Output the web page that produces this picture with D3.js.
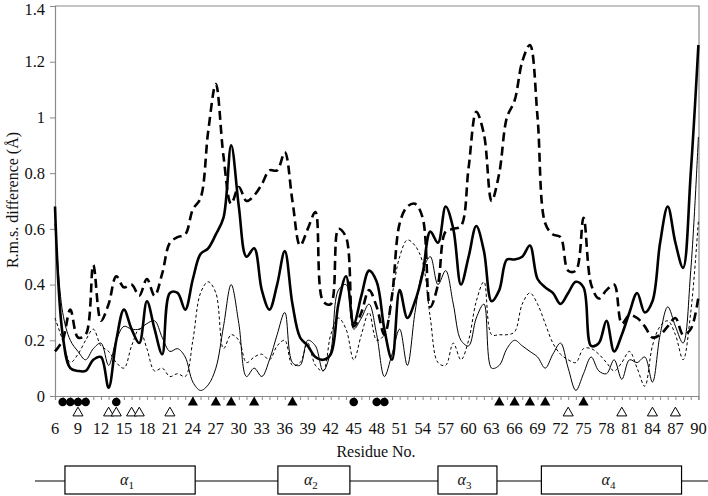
<!DOCTYPE html>
<html>
<head>
<meta charset="utf-8">
<script src="https://cdn.jsdelivr.net/npm/d3@7"></script>
<style>
  body { margin: 0; background: #fff; }
  svg text { font-family: "Liberation Serif", "Times New Roman", serif; fill: #111; }
</style>
</head>
<body>
<div id="chart"></div>
<script>
const residues = d3.range(6, 91);

const thickSolid = [0.68, 0.22, 0.10, 0.09, 0.09, 0.13, 0.14, 0.03, 0.20, 0.31,
  0.24, 0.19, 0.34, 0.24, 0.15, 0.37, 0.37, 0.31, 0.42, 0.51,
  0.53, 0.58, 0.64, 0.90, 0.68, 0.50, 0.53, 0.38, 0.31, 0.40,
  0.52, 0.33, 0.21, 0.18, 0.14, 0.13, 0.15, 0.33, 0.43, 0.26,
  0.36, 0.45, 0.41, 0.24, 0.13, 0.38, 0.28, 0.34, 0.44, 0.59,
  0.55, 0.68, 0.60, 0.40, 0.50, 0.61, 0.52, 0.34, 0.38, 0.49,
  0.49, 0.50, 0.54, 0.42, 0.39, 0.37, 0.33, 0.37, 0.41, 0.39,
  0.18, 0.19, 0.27, 0.16, 0.22, 0.30, 0.37, 0.30, 0.34, 0.55,
  0.68, 0.55, 0.46, 0.80, 1.26];

const thickDashed = [0.16, 0.20, 0.31, 0.21, 0.22, 0.47, 0.27, 0.33, 0.43, 0.39,
  0.40, 0.36, 0.42, 0.36, 0.44, 0.55, 0.57, 0.58, 0.67, 0.71,
  0.95, 1.12, 0.86, 0.69, 0.75, 0.70, 0.72, 0.76, 0.81, 0.81,
  0.875, 0.70, 0.54, 0.60, 0.66, 0.34, 0.33, 0.60, 0.57, 0.25,
  0.30, 0.38, 0.32, 0.22, 0.36, 0.62, 0.68, 0.69, 0.64, 0.32,
  0.40, 0.59, 0.60, 0.61, 0.82, 1.02, 0.94, 0.70, 0.80, 1.00,
  1.06, 1.20, 1.26, 1.00, 0.62, 0.58, 0.57, 0.45, 0.45, 0.64,
  0.40, 0.35, 0.38, 0.40, 0.26, 0.29, 0.28, 0.25, 0.21, 0.22,
  0.25, 0.28, 0.22, 0.24, 0.355];

const thinSolid = [0.62, 0.30, 0.20, 0.16, 0.13, 0.17, 0.19, 0.11, 0.20, 0.25,
  0.24, 0.24, 0.26, 0.27, 0.21, 0.16, 0.17, 0.14, 0.05, 0.02,
  0.04, 0.10, 0.25, 0.40, 0.26, 0.07, 0.10, 0.07, 0.13, 0.22,
  0.30, 0.12, 0.11, 0.20, 0.18, 0.09, 0.16, 0.38, 0.40, 0.24,
  0.28, 0.33, 0.22, 0.07, 0.15, 0.24, 0.11, 0.30, 0.45, 0.50,
  0.40, 0.45, 0.33, 0.20, 0.18, 0.28, 0.33, 0.10, 0.11, 0.17,
  0.20, 0.18, 0.16, 0.14, 0.10, 0.15, 0.19, 0.10, 0.02, 0.08,
  0.14, 0.09, 0.08, 0.13, 0.06, 0.13, 0.12, 0.14, 0.05, 0.22,
  0.32, 0.25, 0.19, 0.45, 0.93];

const thinDashed = [0.28, 0.20, 0.12, 0.15, 0.20, 0.24, 0.18, 0.16, 0.12, 0.10,
  0.18, 0.24, 0.17, 0.09, 0.10, 0.07, 0.08, 0.07, 0.20, 0.37,
  0.41, 0.37, 0.17, 0.22, 0.20, 0.12, 0.14, 0.15, 0.13, 0.18,
  0.20, 0.11, 0.12, 0.19, 0.11, 0.09, 0.22, 0.28, 0.24, 0.13,
  0.22, 0.30, 0.20, 0.22, 0.36, 0.50, 0.56, 0.54, 0.48, 0.28,
  0.12, 0.11, 0.19, 0.13, 0.20, 0.34, 0.41, 0.22, 0.22, 0.22,
  0.23, 0.33, 0.37, 0.33, 0.26, 0.19, 0.15, 0.13, 0.12, 0.17,
  0.17, 0.15, 0.12, 0.09, 0.12, 0.16, 0.10, 0.035, 0.18, 0.25,
  0.27, 0.22, 0.13, 0.30, 0.63];

const yTicks = [0, 0.2, 0.4, 0.6, 0.8, 1, 1.2, 1.4];
const xTickLabels = d3.range(6, 91, 3);

const filledCircles = [7, 8, 9, 10, 14, 45, 48, 49];
const filledTriangles = [24, 27, 29, 32, 37, 64, 66, 68, 70, 75];
const openTriangles = [9, 13, 14, 16, 17, 21, 73, 80, 84, 87];

const helixNames = ["1", "2", "3", "4"];
const helixStart = [7.3, 35.1, 56.0, 69.5];
const helixEnd = [24.3, 44.5, 63.7, 87.8];

const width = 708, height = 496;
const plot = { left: 55, right: 699, top: 6, bottom: 396 };

const svg = d3.select("#chart").append("svg")
  .attr("width", width)
  .attr("height", height);

const x = d3.scaleLinear().domain([6, 90]).range([plot.left, plot.right - 0.6]);
const y = d3.scaleLinear().domain([0, 1.4]).range([plot.bottom, plot.top]);

const axisColor = "#8a8a8a";

// frame (top + right)
svg.append("path")
  .attr("d", `M${plot.left},${plot.top}H${plot.right}V${plot.bottom}`)
  .attr("fill", "none")
  .attr("stroke", axisColor)
  .attr("stroke-width", 1.2);

// y axis
const yAxis = svg.append("g")
  .attr("transform", `translate(${plot.left},0)`)
  .call(d3.axisLeft(y).tickValues(yTicks).tickSize(5).tickPadding(5)
    .tickFormat(d => d3.format("")(+d.toFixed(1))));
yAxis.attr("font-family", "'Liberation Serif', serif");
yAxis.select(".domain").attr("stroke", axisColor).attr("stroke-width", 1.2);
yAxis.selectAll(".tick line").attr("stroke", axisColor);
yAxis.selectAll(".tick text")
  .style("font-size", "16.5px")
  .attr("fill", "#111")
  .attr("dy", d => d === 1.4 ? "0.5em" : "0.32em");

// x axis with one minor tick per residue
const xAxis = svg.append("g")
  .attr("transform", `translate(0,${plot.bottom})`)
  .call(d3.axisBottom(x).tickValues(residues).tickSize(4).tickFormat(""));
xAxis.select(".domain").attr("stroke", axisColor).attr("stroke-width", 1.2);
xAxis.selectAll(".tick line").attr("stroke", axisColor);

svg.append("g").selectAll("text")
  .data(xTickLabels)
  .join("text")
    .attr("x", d => x(d))
    .attr("y", 434)
    .attr("text-anchor", "middle")
    .style("font-size", "16.5px")
    .text(d => d);

svg.append("text")
  .attr("x", 376)
  .attr("y", 457)
  .attr("text-anchor", "middle")
  .style("font-size", "16px")
  .text("Residue No.");

svg.append("text")
  .attr("transform", "rotate(-90)")
  .attr("x", -200)
  .attr("y", 18)
  .attr("text-anchor", "middle")
  .style("font-size", "16px")
  .text("R.m.s. difference (Å)");

// series
const line = d3.line()
  .x((d, i) => x(residues[i]))
  .y(d => y(d))
  .curve(d3.curveCatmullRom.alpha(0.5));

const series = [
  { values: thinDashed, width: 1, dash: "3,2.5" },
  { values: thinSolid, width: 1, dash: null },
  { values: thickDashed, width: 2.6, dash: "9,5" },
  { values: thickSolid, width: 2.6, dash: null }
];

svg.append("g").selectAll("path")
  .data(series)
  .join("path")
    .attr("d", d => line(d.values))
    .attr("fill", "none")
    .attr("stroke", "#000")
    .attr("stroke-width", d => d.width)
    .attr("stroke-dasharray", d => d.dash)
    .attr("stroke-linejoin", "round");

// residue markers
const markerY = 402, openY = 413;
svg.append("g").selectAll("circle")
  .data(filledCircles)
  .join("circle")
    .attr("cx", d => x(d))
    .attr("cy", markerY)
    .attr("r", 4.3)
    .attr("fill", "#000");

svg.append("g").selectAll("path")
  .data(filledTriangles)
  .join("path")
    .attr("transform", d => `translate(${x(d)},${markerY + 0.5})`)
    .attr("d", d3.symbol().type(d3.symbolTriangle).size(46))
    .attr("fill", "#000");

svg.append("g").selectAll("path")
  .data(openTriangles)
  .join("path")
    .attr("transform", d => `translate(${x(d)},${openY})`)
    .attr("d", d3.symbol().type(d3.symbolTriangle).size(44))
    .attr("fill", "#fff")
    .attr("stroke", "#000")
    .attr("stroke-width", 1);

// secondary structure bar
const ssY = 481, boxTop = 466, boxH = 28;
svg.append("line")
  .attr("x1", 35).attr("x2", 708)
  .attr("y1", ssY).attr("y2", ssY)
  .attr("stroke", "#000")
  .attr("stroke-width", 1.2);

const helices = helixNames.map((n, i) => ({ n, s: helixStart[i], e: helixEnd[i] }));
const hg = svg.append("g").selectAll("g")
  .data(helices)
  .join("g");

hg.append("rect")
  .attr("x", d => x(d.s))
  .attr("y", boxTop)
  .attr("width", d => x(d.e) - x(d.s))
  .attr("height", boxH)
  .attr("fill", "#fff")
  .attr("stroke", "#000")
  .attr("stroke-width", 1.2);

const lbl = hg.append("text")
  .attr("x", d => (x(d.s) + x(d.e)) / 2 - 3)
  .attr("y", boxTop + 19)
  .attr("text-anchor", "middle")
  .style("font-size", "16px");
lbl.append("tspan").style("font-style", "italic").text("α");
lbl.append("tspan")
  .attr("dy", 4)
  .style("font-size", "11px")
  .text(d => d.n);
</script>
</body>
</html>
